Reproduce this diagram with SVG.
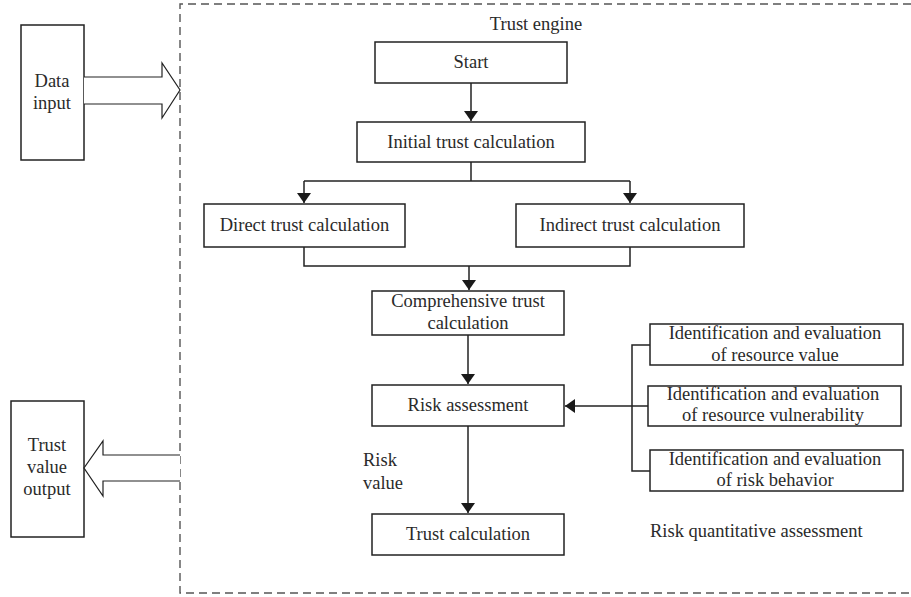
<svg xmlns="http://www.w3.org/2000/svg" width="911" height="597" viewBox="0 0 911 597">
<defs>
<marker id="ah" markerWidth="10" markerHeight="14" refX="10" refY="7" orient="auto" markerUnits="userSpaceOnUse">
<path d="M0,0 L10,7 L0,14 Z" fill="#1a1a1a"/>
</marker>
<style>
.box{fill:#fff;stroke:#222;stroke-width:1.5}
.ln{fill:none;stroke:#222;stroke-width:1.5}
.big{fill:#fff;stroke:#222;stroke-width:1.2}
text{font-family:"Liberation Serif","Times New Roman",serif;font-size:18.5px;fill:#2a2a2a;text-anchor:middle}
.l{text-anchor:start}
</style>
</defs>
<rect width="911" height="597" fill="#fff"/>
<g id="trust-engine">
<path d="M911,4 H180 V593 H911" fill="none" stroke="#555" stroke-width="1.4" stroke-dasharray="8,5"/>
<text x="536" y="30">Trust engine</text>
</g>
<g id="data-input">
<rect class="box" x="21" y="25" width="63" height="135"/>
<text x="52" y="87">Data</text>
<text x="52" y="109">input</text>
</g>
<g id="trust-value-output">
<rect class="box" x="11" y="401" width="73" height="136"/>
<text x="47" y="451">Trust</text>
<text x="47" y="473">value</text>
<text x="47" y="495">output</text>
</g>
<g id="start">
<rect class="box" x="375" y="42" width="192" height="41"/>
<text x="471" y="68">Start</text>
</g>
<g id="initial">
<rect class="box" x="357" y="122" width="228" height="40"/>
<text x="471" y="148">Initial trust calculation</text>
</g>
<g id="direct">
<rect class="box" x="204" y="204" width="201" height="43"/>
<text x="304.5" y="231">Direct trust calculation</text>
</g>
<g id="indirect">
<rect class="box" x="516" y="204" width="228" height="43"/>
<text x="630" y="231">Indirect trust calculation</text>
</g>
<g id="comprehensive">
<rect class="box" x="372" y="291" width="192" height="44"/>
<text x="468" y="307">Comprehensive trust</text>
<text x="468" y="329">calculation</text>
</g>
<g id="risk-assessment">
<rect class="box" x="372" y="385" width="192" height="41"/>
<text x="468" y="411">Risk assessment</text>
</g>
<g id="trust-calculation">
<rect class="box" x="372" y="514" width="192" height="41"/>
<text x="468" y="540">Trust calculation</text>
</g>
<g id="risk-value">
<text class="l" x="363" y="466">Risk</text>
<text class="l" x="363" y="489">value</text>
</g>
<g id="resource-value">
<rect class="box" x="650" y="324" width="253" height="41"/>
<text x="775" y="339">Identification and evaluation</text>
<text x="775" y="361">of resource value</text>
</g>
<g id="resource-vulnerability">
<rect class="box" x="648" y="386" width="253" height="40"/>
<text x="773" y="400">Identification and evaluation</text>
<text x="773" y="421">of resource vulnerability</text>
</g>
<g id="risk-behavior">
<rect class="box" x="650" y="450" width="253" height="41"/>
<text x="775" y="465">Identification and evaluation</text>
<text x="775" y="486">of risk behavior</text>
</g>
<g id="risk-quantitative">
<text class="l" x="650" y="537">Risk quantitative assessment</text>
</g>
<g id="connectors">
<path class="big" d="M84,77 H162 V63 L180,90 L162,118 V104 H84"/>
<path class="big" d="M180,455 H103 V441 L84,468 L103,496 V481 H180"/>
<path class="ln" d="M471,83 V121" marker-end="url(#ah)"/>
<path class="ln" d="M471,162 V181"/>
<path class="ln" d="M304,181 H630"/>
<path class="ln" d="M304,181 V203" marker-end="url(#ah)"/>
<path class="ln" d="M630,181 V203" marker-end="url(#ah)"/>
<path class="ln" d="M304,247 V266 H630 V247"/>
<path class="ln" d="M469,266 V290" marker-end="url(#ah)"/>
<path class="ln" d="M468,335 V384" marker-end="url(#ah)"/>
<path class="ln" d="M468,426 V513" marker-end="url(#ah)"/>
<path class="ln" d="M632,406 H565" marker-end="url(#ah)"/>
<path class="ln" d="M650,345 H632 V471 H650"/>
<path class="ln" d="M632,406 H648"/>
</g>
</svg>
